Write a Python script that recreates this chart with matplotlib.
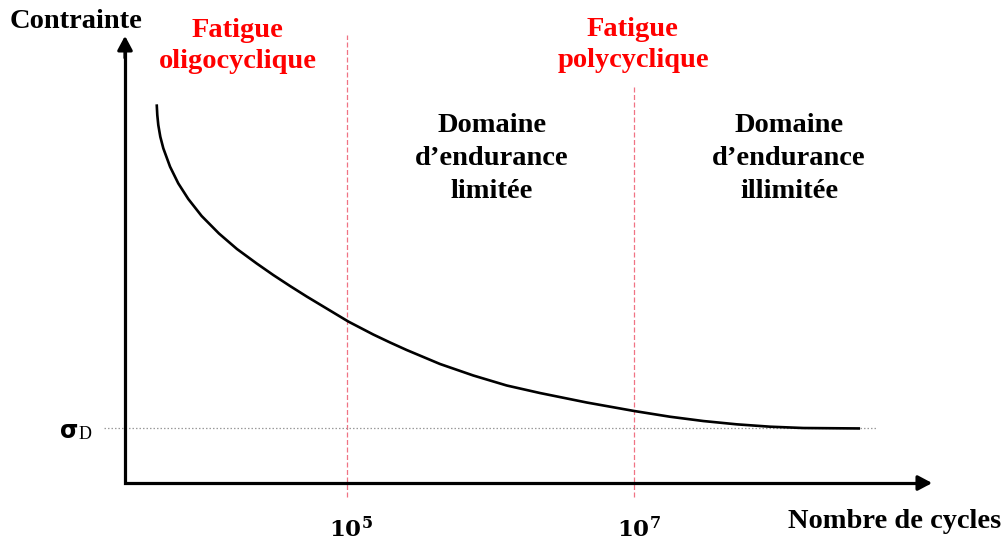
import matplotlib
matplotlib.use("Agg")
import matplotlib.pyplot as plt
import numpy as np

# Wöhler (S-N) curve: log10 of the number of cycles and the stress level (σD = 100)
log_cycles = [3.674, 3.678, 3.685, 3.699, 3.720, 3.767, 3.824, 3.894, 3.987, 4.108,
              4.233, 4.371, 4.486, 4.603, 4.719, 4.835, 5.009, 5.183, 5.300, 5.416,
              5.648, 5.880, 6.113, 6.345, 6.670, 7.002, 7.251, 7.483, 7.716, 7.948,
              8.180, 8.575]
stress = [688.5, 669.1, 650.9, 629.6, 608.5, 575.1, 544.9, 516.4, 485.5, 453.6,
          425.5, 399.1, 378.2, 358.2, 339.1, 320.9, 293.6, 270.0, 255.5, 241.8,
          216.4, 195.5, 177.3, 163.6, 146.4, 130.9, 120.5, 112.7, 106.7, 102.4,
          100.0, 99.2]
sigma_d = 100

# Limits between the fatigue regimes
regime_limits = [1e5, 1e7]
limit_labels = [r"$\mathbf{10}^{\mathbf{5}}$", r"$\mathbf{10}^{\mathbf{7}}$"]

regime_titles = ["Fatigue\noligocyclique", "Fatigue\npolycyclique"]
domain_titles = ["Domaine\nd\u2019endurance\nlimitée", "Domaine\nd\u2019endurance\nillimitée"]

plt.rcParams["mathtext.fontset"] = "dejavuserif"
SERIF = "Liberation Serif"

W, H = 1003, 540
fig = plt.figure(figsize=(W / 100, H / 100), dpi=100)
ax = fig.add_axes([0, 0, 1, 1])
ax.set_xscale("log")
ax.set_xlim(10 ** 2.582, 10 ** 9.571)
ax.set_ylim(-103.6, 878.2)
ax.axis("off")

cycles = 10 ** np.array(log_cycles)

# Axes drawn as arrows
x0, y0 = 10 ** 3.453, 0
x_tip, y_tip = 10 ** 9.077, 813
ax.plot([x0, x0, x_tip * 0.93], [y_tip - 15, y0, y0], color="black", lw=2.3,
        solid_joinstyle="miter", solid_capstyle="butt", zorder=4)
arrow = dict(arrowstyle="-|>,head_length=0.6,head_width=0.32", color="black",
             lw=2.3, mutation_scale=14, shrinkA=0, shrinkB=0)
ax.annotate("", xy=(x_tip, y0), xytext=(x_tip * 0.85, y0), arrowprops=arrow, zorder=5)
ax.annotate("", xy=(x0, y_tip), xytext=(x0, y_tip - 40), arrowprops=arrow, zorder=5)

# Endurance limit
ax.plot([10 ** 3.307, 10 ** 8.693], [sigma_d, sigma_d], color="#9a9a9a", lw=0.9,
        linestyle=(0, (1.2, 1.6)), zorder=2)

# Regime limits
ax.vlines(regime_limits[0], -25.5, 814.5, color="#ee5a6e", lw=0.9, alpha=0.85,
          linestyles=(0, (4, 2)), zorder=1)
ax.vlines(regime_limits[1], -25.5, 723.6, color="#ee5a6e", lw=0.9, alpha=0.85,
          linestyles=(0, (4, 2)), zorder=1)

# S-N curve
ax.plot(cycles, stress, color="black", lw=1.9, solid_capstyle="butt",
        solid_joinstyle="round", zorder=3)


def put_lines(text, cx, baselines, color="black", size=20.5, ha="center"):
    for line, by in zip(text.split("\n"), baselines):
        fig.text(cx / W, 1 - by / H, line, ha=ha, va="baseline", color=color,
                 fontsize=size, fontweight="bold", family=SERIF)


put_lines("Contrainte", 10, [28], ha="left")
put_lines("Nombre de cycles", 788, [528], ha="left")

put_lines(regime_titles[0], 238, [37, 68], color="#ff0000")
put_lines(regime_titles[1], 633, [36, 67], color="#ff0000")

put_lines(domain_titles[0], 492, [132, 165, 198])
put_lines(domain_titles[1], 789, [132, 165, 198])

for xv, lab, cx in zip(regime_limits, limit_labels, [351, 639]):
    fig.text(cx / W, 1 - 537 / H, lab, ha="center", va="baseline", fontsize=16.5,
             color="black")

# σD label
fig.text(60 / W, 1 - 438 / H, "σ", ha="left", va="baseline", fontsize=17,
         fontweight="bold", family="DejaVu Sans", color="black")
fig.text(79 / W, 1 - 439 / H, "D", ha="left", va="baseline", fontsize=13,
         family=SERIF, color="black")

fig.savefig("out.png", dpi=100, facecolor="white")
